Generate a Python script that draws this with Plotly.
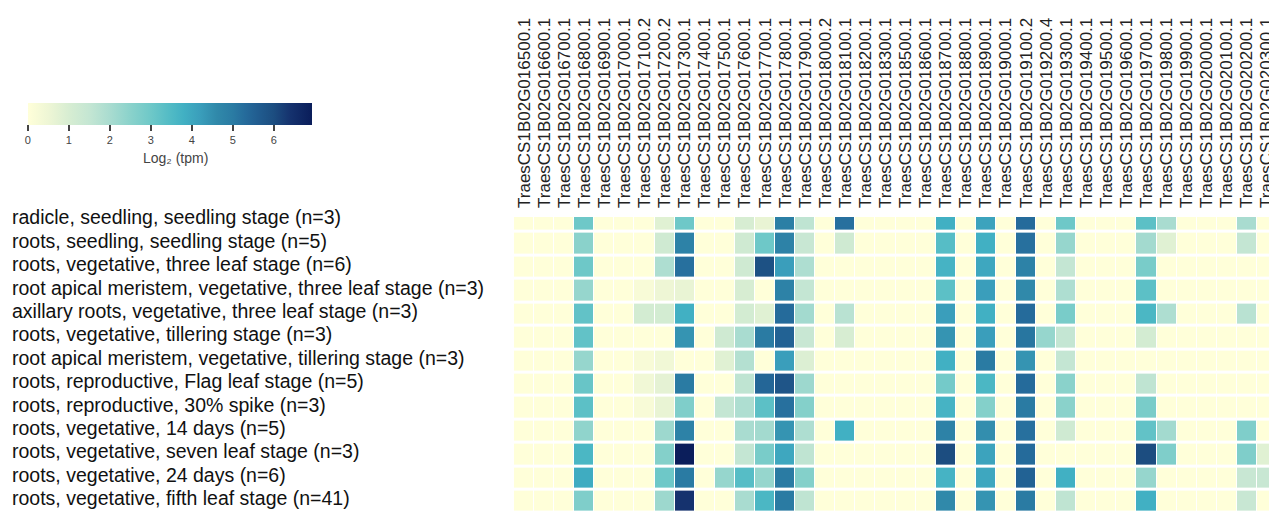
import plotly.graph_objects as go

genes = [
    "TraesCS1B02G016500.1", "TraesCS1B02G016600.1", "TraesCS1B02G016700.1",
    "TraesCS1B02G016800.1", "TraesCS1B02G016900.1", "TraesCS1B02G017000.1",
    "TraesCS1B02G017100.2", "TraesCS1B02G017200.2", "TraesCS1B02G017300.1",
    "TraesCS1B02G017400.1", "TraesCS1B02G017500.1", "TraesCS1B02G017600.1",
    "TraesCS1B02G017700.1", "TraesCS1B02G017800.1", "TraesCS1B02G017900.1",
    "TraesCS1B02G018000.2", "TraesCS1B02G018100.1", "TraesCS1B02G018200.1",
    "TraesCS1B02G018300.1", "TraesCS1B02G018500.1", "TraesCS1B02G018600.1",
    "TraesCS1B02G018700.1", "TraesCS1B02G018800.1", "TraesCS1B02G018900.1",
    "TraesCS1B02G019000.1", "TraesCS1B02G019100.2", "TraesCS1B02G019200.4",
    "TraesCS1B02G019300.1", "TraesCS1B02G019400.1", "TraesCS1B02G019500.1",
    "TraesCS1B02G019600.1", "TraesCS1B02G019700.1", "TraesCS1B02G019800.1",
    "TraesCS1B02G019900.1", "TraesCS1B02G020000.1", "TraesCS1B02G020100.1",
    "TraesCS1B02G020200.1", "TraesCS1B02G020300.1",
]

tissues = [
    "radicle, seedling, seedling stage (n=3)",
    "roots, seedling, seedling stage (n=5)",
    "roots, vegetative, three leaf stage (n=6)",
    "root apical meristem, vegetative, three leaf stage (n=3)",
    "axillary roots, vegetative, three leaf stage (n=3)",
    "roots, vegetative, tillering stage (n=3)",
    "root apical meristem, vegetative, tillering stage (n=3)",
    "roots, reproductive, Flag leaf stage (n=5)",
    "roots, reproductive, 30% spike (n=3)",
    "roots, vegetative, 14 days (n=5)",
    "roots, vegetative, seven leaf stage (n=3)",
    "roots, vegetative, 24 days (n=6)",
    "roots, vegetative, fifth leaf stage (n=41)",
]

# log2(tpm) per tissue (rows) and gene (columns)
radicle_seedling = [0,0,0,3.0,0,0,0,0.8,3.0,0, 0,1.0,0.6,4.9,1.6,0,5.2,0,0,0, 0,3.8,0,4.1,0,5.3,0,3.0,0,0, 0,3.3,2.0,0,0,0,2.0,0]
roots_seedling = [0,0,0,2.5,0,0,0,1.2,4.8,0, 0,1.2,3.0,4.8,1.4,0,1.2,0,0,0, 0,3.4,0,3.8,0,5.2,0,2.3,0,0, 0,2.1,0.8,0,0,0,1.5,0]
roots_three_leaf = [0,0,0,3.0,0,0,0,1.9,5.2,0, 0,1.2,5.9,4.2,1.9,0,0,0,0,0, 0,3.7,0,4.0,0,4.8,0,1.5,0,0, 0,2.8,0,0,0,0,0,0]
ram_three_leaf = [0,0,0,2.3,0,0,0.2,0.5,0.6,0, 0,1.0,0,4.8,1.5,0,0,0,0,0, 0,3.3,0,4.2,0,4.6,0,1.9,0,0, 0,3.3,0,0,0,0,0,0]
axillary_three_leaf = [0,0,0,3.2,0,0,1.1,1.1,3.8,0, 0,1.1,0.8,5.3,2.1,0,1.7,0,0,0, 0,4.2,0,3.8,0,5.3,0,2.8,0,0, 0,3.6,1.9,0,0,0,1.7,0]
roots_tillering = [0,0,0,3.2,0,0,0,0,4.4,0, 1.2,2.0,5.0,5.5,1.4,0,1.0,0,0,0, 0,4.4,0,4.2,0,5.1,2.3,1.5,0,0, 0,1.1,0,0,0,0,0,0]
ram_tillering = [0,0,0,2.3,0,0,0.2,0.4,0,0, 0.8,1.8,0,4.2,0.9,0,0,0,0,0, 0,3.8,0,5.0,0,4.4,0,1.5,0,0, 0,0,0,0,0,0,0,0]
roots_flag_leaf = [0,0,0,3.1,0,0,0.4,0.7,5.0,0, 0,1.6,5.4,5.8,2.2,0,0,0,0,0, 0,2.9,0,3.6,0,5.3,0,2.5,0,0, 0,1.6,0,0,0,0,0,0]
roots_30_spike = [0,0,0,3.3,0,0,0.2,0.6,2.7,0, 1.5,1.9,3.3,5.2,2.6,0,0,0,0,0, 0,3.7,0,2.6,0,5.0,0,2.5,0,0, 0,2.8,0,0,0,0,0,0]
roots_14_days = [0,0,0,2.4,0,0,0,2.2,4.8,0, 0,2.0,2.1,4.4,1.9,0,3.8,0,0,0, 0,4.8,0,4.5,0,5.2,0,1.2,0,0, 0,3.2,2.1,0,0,0,2.7,0]
roots_seven_leaf = [0,0,0,3.6,0,0,0,2.6,6.9,0, 0,1.5,2.8,4.0,1.6,0,0,0,0,0, 0,6.0,0,4.1,0,5.3,0,0,0,0, 0,6.0,2.7,0,0,0,2.7,0.8]
roots_24_days = [0,0,0,3.9,0,0,0,3.0,5.0,0, 2.3,3.4,2.3,5.0,2.6,0,0,0,0,0, 0,3.7,0,4.0,0,5.5,0,3.8,0,0, 0,2.3,0,0,0,0,1.4,1.4]
roots_fifth_leaf = [0,0,0,2.7,0,0,0,2.2,6.4,0, 0,2.0,3.6,5.0,1.6,0,0,0,0,0, 0,4.6,0,4.4,0,5.0,0,1.6,0,0, 0,3.8,0,0,0,0,1.4,0]

z = [
    radicle_seedling, roots_seedling, roots_three_leaf, ram_three_leaf,
    axillary_three_leaf, roots_tillering, ram_tillering, roots_flag_leaf,
    roots_30_spike, roots_14_days, roots_seven_leaf, roots_24_days,
    roots_fifth_leaf,
]

zmax = 6.93
stops = [
    (0.0, "#ffffd9"), (0.5, "#eef6d5"), (1.0, "#d7edd2"), (1.5, "#c4e6d3"),
    (2.0, "#a9dcd0"), (2.5, "#8ad2cb"), (3.0, "#6ec8c8"), (3.5, "#50bac5"),
    (3.8, "#41b0c3"), (4.2, "#3a9ebb"), (4.6, "#3089aa"), (5.0, "#2a7ba3"),
    (5.3, "#256b9b"), (5.6, "#215d90"), (6.0, "#1c4d80"), (6.4, "#15326e"),
    (6.93, "#0a1d5a"),
]
colorscale = [[v / zmax, c] for v, c in stops]

# The page body has an 8px margin, so the figure is 8px smaller each way
W, H = 1269, 507
L, R, T, B = 506, 0, 209, 2
PW, PH = W - L - R, H - T - B

fig = go.Figure(
    go.Heatmap(
        z=z,
        x=genes,
        y=list(range(len(tissues))),
        colorscale=colorscale,
        zmin=0,
        zmax=zmax,
        xgap=1,
        ygap=3,
        colorbar=dict(
            orientation="h",
            xref="container",
            yref="container",
            x=33 / W,
            xanchor="left",
            y=1 - 95 / H,
            yanchor="top",
            lenmode="pixels",
            len=284,
            thickness=22,
            xpad=0,
            ypad=0,
            outlinewidth=0,
            tickvals=[0, 1, 2, 3, 4, 5, 6],
            ticks="outside",
            ticklen=6,
            tickwidth=1.5,
            tickcolor="#444444",
            tickfont=dict(family="Arial", size=11, color="#444444"),
        ),
    )
)

# colorbar title
fig.add_annotation(
    x=(167 - L) / PW,
    xref="paper",
    y=(H - B - 150) / PH,
    yref="paper",
    text="Log\u2082 (tpm)",
    showarrow=False,
    xanchor="center",
    yanchor="middle",
    font=dict(family="Arial", size=14, color="#444444"),
)

for i, t in enumerate(tissues):
    fig.add_annotation(
        x=(2 - L) / PW,
        xref="paper",
        y=i,
        yref="y",
        text=t,
        showarrow=False,
        xanchor="left",
        yanchor="middle",
        yshift=3,
        font=dict(family="Arial", size=19.5, color="#111111"),
    )

fig.update_xaxes(
    side="top",
    tickangle=-90,
    tickmode="array",
    tickvals=genes,
    ticktext=genes,
    tickfont=dict(family="Arial", size=17, color="#222222"),
    showgrid=False,
    zeroline=False,
    showline=False,
    ticks="",
    ticklabelstandoff=8,
    range=[-0.5, 37.5],
)
fig.update_yaxes(
    range=[12.5, -0.14],
    showticklabels=False,
    showgrid=False,
    zeroline=False,
    showline=False,
    ticks="",
)
fig.update_layout(
    width=W,
    height=H,
    margin=dict(l=L, r=R, t=T, b=B, autoexpand=False),
    paper_bgcolor="white",
    plot_bgcolor="white",
)

fig.write_html("out.html")
